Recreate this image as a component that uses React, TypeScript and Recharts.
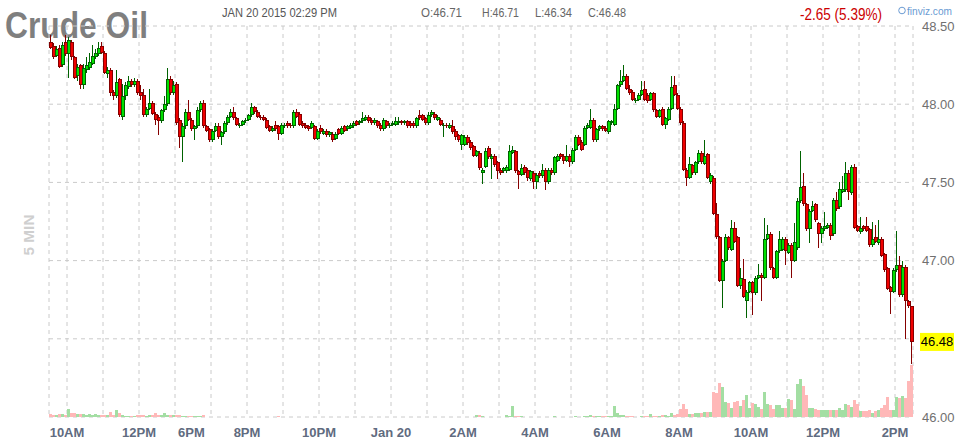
import React from "react";
import {
  ComposedChart,
  Bar,
  XAxis,
  YAxis,
  CartesianGrid,
  ReferenceLine,
} from "recharts";

// 5-minute candles, Jan 19 9:30AM .. Jan 20 2:25PM (gap 1PM -> 6PM)
const opens = [
  48.40, 48.37, 48.31, 48.36, 48.25, 48.40, 48.32, 48.40, 48.30, 48.18,
  48.25, 48.12, 48.22, 48.23, 48.26, 48.30, 48.32, 48.37, 48.33, 48.19,
  48.22, 48.08, 48.05, 48.16, 47.92, 48.05, 48.11, 48.15, 48.12, 48.15,
  48.08, 48.06, 47.93, 47.97, 48.01, 47.94, 47.92, 47.89, 47.96, 48.00,
  48.16, 48.07, 48.13, 47.90, 47.79, 47.86, 47.95, 47.90, 47.84, 47.86,
  47.96, 48.01, 47.86, 47.84, 47.77, 47.83, 47.86, 47.79, 47.82, 47.88,
  47.92, 47.95, 47.91, 47.86, 47.87, 47.89, 47.90, 47.93, 47.98, 47.95,
  47.92, 47.92, 47.90, 47.86, 47.83, 47.87, 47.86, 47.81, 47.86, 47.88,
  47.87, 47.86, 47.95, 47.94, 47.88, 47.87, 47.86, 47.85, 47.86, 47.78,
  47.85, 47.81, 47.83, 47.80, 47.81, 47.78, 47.84, 47.81, 47.86, 47.84,
  47.85, 47.86, 47.89, 47.88, 47.89, 47.90, 47.92, 47.90, 47.88, 47.89,
  47.87, 47.84, 47.89, 47.86, 47.87, 47.87, 47.88, 47.89, 47.88, 47.89,
  47.88, 47.88, 47.86, 47.93, 47.93, 47.91, 47.88, 47.93, 47.94, 47.90,
  47.90, 47.86, 47.87, 47.85, 47.86, 47.83, 47.80, 47.74, 47.74, 47.79,
  47.76, 47.73, 47.67, 47.69, 47.56, 47.60, 47.72, 47.65, 47.67, 47.63,
  47.58, 47.57, 47.57, 47.58, 47.69, 47.70, 47.57, 47.55, 47.60, 47.58,
  47.52, 47.56, 47.50, 47.56, 47.54, 47.58, 47.50, 47.58, 47.56, 47.64,
  47.68, 47.67, 47.64, 47.67, 47.63, 47.71, 47.79, 47.76, 47.74, 47.85,
  47.85, 47.90, 47.77, 47.84, 47.86, 47.85, 47.82, 47.88, 47.87, 47.97,
  48.12, 48.15, 48.18, 48.10, 48.08, 48.02, 48.03, 48.06, 48.10, 48.06,
  48.03, 48.07, 47.96, 47.92, 47.97, 47.87, 47.90, 47.97, 48.12, 48.06,
  47.97, 47.88, 47.58, 47.53, 47.61, 47.56, 47.63, 47.69, 47.62, 47.68,
  47.50, 47.53, 47.30, 47.15, 46.87, 47.00, 47.15, 47.07, 47.21, 47.15,
  46.84, 46.88, 46.74, 46.80, 46.86, 46.79, 46.89, 46.91, 46.89, 47.14,
  47.17, 46.95, 46.89, 47.06, 47.07, 47.14, 47.05, 47.10, 47.00, 47.08,
  47.38, 47.48, 47.36, 47.20, 47.32, 47.36, 47.24, 47.17, 47.20, 47.21,
  47.23, 47.17, 47.39, 47.34, 47.44, 47.45, 47.56, 47.43, 47.60, 47.22,
  47.18, 47.22, 47.22, 47.20, 47.10, 47.15, 47.11, 47.14, 47.04, 46.95,
  46.83, 46.80, 46.94, 46.97, 46.78, 46.96, 46.74, 46.71,
];

const highs = [
  48.44, 48.39, 48.37, 48.38, 48.40, 48.44, 48.43, 48.41, 48.31, 48.26,
  48.26, 48.26, 48.30, 48.33, 48.38, 48.35, 48.40, 48.40, 48.34, 48.24,
  48.23, 48.09, 48.22, 48.17, 48.13, 48.14, 48.18, 48.16, 48.17, 48.16,
  48.12, 48.10, 47.98, 48.10, 48.02, 47.95, 47.93, 47.97, 48.05, 48.23,
  48.18, 48.15, 48.14, 47.91, 47.88, 47.97, 48.03, 47.91, 47.87, 47.98,
  48.02, 48.03, 47.87, 47.85, 47.84, 47.88, 47.88, 47.83, 47.89, 47.93,
  47.97, 47.98, 47.92, 47.88, 47.90, 47.91, 47.94, 48.01, 47.99, 47.96,
  47.93, 47.93, 47.91, 47.87, 47.86, 47.89, 47.87, 47.88, 47.88, 47.89,
  47.88, 47.96, 47.97, 47.95, 47.89, 47.88, 47.87, 47.89, 47.87, 47.84,
  47.87, 47.84, 47.84, 47.83, 47.82, 47.82, 47.85, 47.86, 47.87, 47.87,
  47.88, 47.89, 47.90, 47.90, 47.95, 47.93, 47.93, 47.91, 47.91, 47.90,
  47.88, 47.91, 47.90, 47.88, 47.89, 47.92, 47.92, 47.90, 47.90, 47.90,
  47.89, 47.89, 47.92, 47.96, 47.94, 47.92, 47.95, 47.96, 47.95, 47.93,
  47.91, 47.88, 47.88, 47.88, 47.90, 47.84, 47.81, 47.81, 47.80, 47.80,
  47.77, 47.74, 47.71, 47.70, 47.59, 47.72, 47.73, 47.68, 47.68, 47.64,
  47.59, 47.60, 47.61, 47.74, 47.73, 47.71, 47.58, 47.62, 47.61, 47.59,
  47.58, 47.57, 47.56, 47.57, 47.62, 47.59, 47.59, 47.59, 47.67, 47.68,
  47.69, 47.68, 47.74, 47.68, 47.72, 47.80, 47.80, 47.77, 47.86, 47.88,
  47.97, 47.91, 47.85, 47.87, 47.87, 47.86, 47.90, 47.90, 48.00, 48.13,
  48.22, 48.25, 48.19, 48.12, 48.09, 48.04, 48.07, 48.15, 48.15, 48.07,
  48.08, 48.08, 47.97, 47.97, 47.98, 47.92, 47.98, 48.18, 48.18, 48.07,
  47.98, 47.89, 47.59, 47.66, 47.62, 47.64, 47.71, 47.70, 47.77, 47.69,
  47.56, 47.54, 47.37, 47.16, 47.01, 47.17, 47.16, 47.26, 47.25, 47.16,
  46.95, 47.01, 46.81, 46.87, 46.87, 46.90, 46.98, 46.92, 47.27, 47.23,
  47.18, 46.96, 47.07, 47.19, 47.15, 47.15, 47.11, 47.11, 47.24, 47.40,
  47.70, 47.56, 47.37, 47.33, 47.38, 47.37, 47.25, 47.22, 47.31, 47.24,
  47.24, 47.40, 47.44, 47.50, 47.54, 47.63, 47.58, 47.61, 47.62, 47.23,
  47.28, 47.23, 47.28, 47.21, 47.25, 47.23, 47.26, 47.15, 47.05, 46.96,
  46.84, 46.95, 47.19, 47.03, 47.00, 46.97, 46.75, 46.71,
];

const lows = [
  48.35, 48.29, 48.30, 48.23, 48.24, 48.31, 48.17, 48.28, 48.16, 48.15,
  48.10, 48.10, 48.20, 48.22, 48.25, 48.29, 48.31, 48.32, 48.19, 48.17,
  48.05, 48.03, 48.04, 47.92, 47.90, 48.03, 48.10, 48.11, 48.11, 48.06,
  48.03, 47.92, 47.92, 47.96, 47.93, 47.87, 47.80, 47.88, 47.95, 47.99,
  48.06, 48.06, 47.87, 47.72, 47.63, 47.84, 47.89, 47.83, 47.77, 47.85,
  47.95, 47.85, 47.82, 47.76, 47.76, 47.82, 47.78, 47.74, 47.81, 47.87,
  47.91, 47.90, 47.86, 47.85, 47.86, 47.88, 47.89, 47.92, 47.94, 47.91,
  47.90, 47.89, 47.84, 47.82, 47.82, 47.83, 47.77, 47.80, 47.85, 47.85,
  47.85, 47.85, 47.91, 47.86, 47.85, 47.84, 47.83, 47.84, 47.77, 47.77,
  47.81, 47.80, 47.79, 47.79, 47.76, 47.77, 47.80, 47.80, 47.82, 47.83,
  47.84, 47.85, 47.86, 47.87, 47.88, 47.89, 47.88, 47.87, 47.87, 47.85,
  47.83, 47.83, 47.85, 47.85, 47.86, 47.86, 47.87, 47.87, 47.87, 47.85,
  47.85, 47.85, 47.85, 47.90, 47.89, 47.87, 47.87, 47.92, 47.90, 47.89,
  47.86, 47.79, 47.85, 47.84, 47.81, 47.77, 47.76, 47.71, 47.73, 47.74,
  47.71, 47.66, 47.66, 47.58, 47.49, 47.59, 47.65, 47.52, 47.60, 47.52,
  47.55, 47.56, 47.56, 47.57, 47.68, 47.56, 47.46, 47.54, 47.55, 47.51,
  47.51, 47.46, 47.46, 47.53, 47.53, 47.45, 47.49, 47.55, 47.55, 47.63,
  47.65, 47.62, 47.63, 47.60, 47.62, 47.70, 47.73, 47.70, 47.73, 47.84,
  47.84, 47.76, 47.76, 47.83, 47.83, 47.82, 47.81, 47.87, 47.86, 47.96,
  48.11, 48.14, 48.09, 48.06, 48.02, 48.01, 48.02, 48.05, 48.02, 48.01,
  48.02, 47.95, 47.91, 47.91, 47.86, 47.84, 47.89, 47.96, 48.05, 47.96,
  47.87, 47.57, 47.48, 47.52, 47.55, 47.55, 47.62, 47.62, 47.61, 47.52,
  47.49, 47.29, 47.14, 46.86, 46.70, 46.99, 47.07, 47.06, 47.11, 46.83,
  46.82, 46.76, 46.63, 46.79, 46.65, 46.78, 46.88, 46.74, 46.88, 47.13,
  46.94, 46.88, 46.88, 47.05, 47.06, 46.97, 47.04, 46.89, 46.99, 47.07,
  47.37, 47.35, 47.19, 47.11, 47.31, 47.25, 47.08, 47.11, 47.19, 47.20,
  47.13, 47.16, 47.32, 47.33, 47.43, 47.44, 47.39, 47.42, 47.20, 47.18,
  47.17, 47.19, 47.18, 47.09, 47.09, 47.11, 47.10, 47.02, 46.93, 46.81,
  46.66, 46.79, 46.93, 46.77, 46.77, 46.50, 46.70, 46.34,
];

const closes = [
  48.36, 48.30, 48.35, 48.24, 48.38, 48.32, 48.41, 48.30, 48.17, 48.24,
  48.12, 48.23, 48.25, 48.27, 48.31, 48.33, 48.36, 48.33, 48.20, 48.22,
  48.07, 48.05, 48.14, 47.93, 48.05, 48.12, 48.15, 48.12, 48.15, 48.07,
  48.05, 47.93, 47.97, 48.01, 47.94, 47.90, 47.89, 47.96, 48.00, 48.16,
  48.07, 48.12, 47.88, 47.79, 47.86, 47.95, 47.90, 47.84, 47.86, 47.96,
  48.01, 47.86, 47.83, 47.77, 47.83, 47.86, 47.79, 47.82, 47.88, 47.92,
  47.95, 47.91, 47.87, 47.87, 47.89, 47.90, 47.93, 47.98, 47.95, 47.92,
  47.91, 47.90, 47.85, 47.83, 47.85, 47.84, 47.81, 47.87, 47.87, 47.86,
  47.86, 47.95, 47.92, 47.87, 47.86, 47.85, 47.84, 47.88, 47.78, 47.83,
  47.82, 47.83, 47.80, 47.82, 47.77, 47.81, 47.81, 47.85, 47.83, 47.86,
  47.87, 47.88, 47.87, 47.89, 47.91, 47.92, 47.89, 47.88, 47.90, 47.86,
  47.84, 47.90, 47.86, 47.87, 47.88, 47.89, 47.89, 47.88, 47.89, 47.86,
  47.86, 47.86, 47.91, 47.91, 47.90, 47.88, 47.93, 47.95, 47.91, 47.92,
  47.87, 47.87, 47.86, 47.87, 47.82, 47.79, 47.77, 47.80, 47.79, 47.75,
  47.72, 47.67, 47.70, 47.59, 47.58, 47.70, 47.66, 47.67, 47.61, 47.57,
  47.56, 47.59, 47.60, 47.70, 47.71, 47.57, 47.55, 47.59, 47.56, 47.53,
  47.57, 47.50, 47.55, 47.54, 47.58, 47.50, 47.58, 47.56, 47.66, 47.67,
  47.66, 47.64, 47.67, 47.63, 47.71, 47.79, 47.74, 47.71, 47.85, 47.87,
  47.90, 47.77, 47.84, 47.86, 47.84, 47.83, 47.89, 47.89, 47.97, 48.12,
  48.15, 48.18, 48.10, 48.07, 48.03, 48.03, 48.06, 48.09, 48.03, 48.02,
  48.07, 47.96, 47.92, 47.96, 47.87, 47.91, 47.97, 48.11, 48.06, 47.97,
  47.88, 47.58, 47.53, 47.62, 47.56, 47.63, 47.69, 47.63, 47.67, 47.53,
  47.55, 47.30, 47.15, 46.87, 47.00, 47.15, 47.08, 47.21, 47.12, 46.84,
  46.89, 46.77, 46.80, 46.86, 46.79, 46.89, 46.91, 46.89, 47.14, 47.17,
  46.95, 46.89, 47.06, 47.14, 47.14, 47.06, 47.10, 47.00, 47.12, 47.38,
  47.47, 47.36, 47.20, 47.32, 47.35, 47.26, 47.17, 47.21, 47.22, 47.23,
  47.16, 47.39, 47.33, 47.46, 47.46, 47.56, 47.44, 47.60, 47.21, 47.19,
  47.21, 47.20, 47.19, 47.10, 47.14, 47.12, 47.14, 47.03, 46.94, 46.82,
  46.80, 46.94, 46.97, 46.78, 46.96, 46.74, 46.71, 46.48,
];

const volumes = [
  340, 200, 150, 300, 250, 200, 840, 400, 350, 300,
  250, 250, 200, 250, 200, 250, 200, 150, 200, 150,
  450, 200, 700, 350, 200, 100, 50, 50, 100, 150,
  150, 150, 100, 150, 200, 350, 150, 150, 350, 200,
  150, 200, 200, 150, 100, 50, 80, 50, 60, 80,
  50, 150, 40, 30, 30, 20, 30, 20, 20, 30,
  20, 20, 20, 10, 10, 20, 20, 30, 10, 10,
  10, 10, 20, 10, 10, 10, 60, 20, 10, 10,
  10, 20, 10, 10, 10, 10, 10, 10, 20, 10,
  10, 10, 10, 10, 10, 10, 10, 10, 10, 10,
  10, 10, 10, 10, 10, 10, 10, 10, 10, 10,
  10, 10, 10, 10, 10, 10, 10, 10, 10, 10,
  10, 20, 30, 20, 10, 10, 20, 10, 10, 10,
  10, 20, 10, 10, 20, 20, 30, 40, 30, 30,
  40, 40, 200, 150, 50, 40, 40, 30, 30, 40,
  30, 40, 150, 80, 1070, 80, 60, 50, 40, 40,
  40, 30, 40, 30, 40, 30, 40, 30, 50, 40,
  30, 30, 40, 30, 40, 50, 40, 30, 50, 60,
  150, 60, 50, 60, 80, 50, 70, 100, 1070, 350,
  150, 150, 100, 80, 60, 40, 40, 50, 60, 50,
  300, 100, 120, 100, 150, 150, 100, 400, 200, 250,
  840, 1340, 840, 300, 300, 350, 400, 400, 450, 500,
  500, 2500, 2400, 3400, 2970, 1500, 1400, 940, 1500, 1600,
  1070, 1700, 2200, 940, 1400, 1270, 1000, 840, 2500, 1340,
  1170, 840, 1170, 1170, 940, 940, 1800, 1700, 840, 3340,
  3840, 3100, 2200, 940, 940, 840, 740, 670, 670, 670,
  670, 740, 740, 940, 740, 1340, 1240, 1000, 1670, 1270,
  600, 600, 600, 740, 400, 600, 740, 940, 1240, 2000,
  740, 740, 2000, 1940, 2070, 1940, 3600, 5200,
];

// candle index of each labelled hour
const tickIdx = [6, 30, 42, 66, 90, 114, 138, 162, 186, 210, 234, 258, 282];
const tickLabels = ["10AM", "12PM", "6PM", "8PM", "10PM", "Jan 20", "2AM", "4AM", "6AM", "8AM", "10AM", "12PM", "2PM"];
// the label after the 1PM-6PM gap starts at its line instead of centring on it
const tickAnchors = ["middle", "middle", "start", "middle", "middle", "middle", "middle", "middle", "middle", "middle", "middle", "middle", "middle"];
// hourly grid lines (candle index where each hour starts), plus both edges
const gridIdx = [0, 6, 18, 30, 42, 54, 66, 78, 90, 102, 114, 126, 138, 150, 162, 174, 186, 198, 210, 222, 234, 246, 258, 270, 282, 288];
const priceTicks = [46, 46.5, 47, 47.5, 48, 48.5];

const NARROW = '"Liberation Sans Narrow", "Arial Narrow", "Liberation Sans", Arial, sans-serif';
const RED = "#f00000";
const RED_DARK = "#850000";
const GREEN = "#00e000";
const GREEN_DARK = "#006200";
const VOL_UP = "#a3dea3";
const VOL_DOWN = "#ffb8b8";

const data = opens.map((o, i) => ({
  i,
  o,
  h: highs[i],
  l: lows[i],
  c: closes[i],
  v: volumes[i],
}));
const last = data[data.length - 1];

function Candle(props: any) {
  const { x, y, width, height, payload } = props;
  if (!payload || !isFinite(y) || !isFinite(height)) return null;
  const { o, h, l, c } = payload;
  const top = Math.min(y, y + height);
  const k = Math.abs(height) / (h - l);
  const py = (v: number) => top + (h - v) * k;
  const mid = Math.round(x + width / 2 - 0.5);
  const up = c >= o;
  const dark = up ? GREEN_DARK : RED_DARK;
  const bright = up ? GREEN : RED;
  const wTop = Math.round(py(h));
  const wBot = Math.max(wTop + 1, Math.round(py(l)));
  const bTop = Math.round(py(Math.max(o, c)));
  const bBot = Math.max(bTop + 1, Math.round(py(Math.min(o, c))));
  return (
    <g>
      <rect x={mid} y={wTop} width={1} height={wBot - wTop} fill={dark} />
      <rect x={mid - 1} y={bTop} width={4} height={bBot - bTop} fill={dark} />
      {bBot - bTop > 2 && (
        <rect x={mid} y={bTop + 1} width={2} height={bBot - bTop - 2} fill={bright} />
      )}
    </g>
  );
}

function VolBar(props: any) {
  const { x, y, width, height, payload } = props;
  if (!payload || !(height >= 0.5)) return null;
  const top = Math.round(y);
  const bot = Math.round(y + height);
  return (
    <rect
      x={Math.round(x)}
      y={top}
      width={Math.round(width)}
      height={Math.max(1, bot - top)}
      fill={payload.c >= payload.o ? VOL_UP : VOL_DOWN}
    />
  );
}

function XTick(props: any) {
  const { x, y, payload } = props;
  const n = tickIdx.indexOf(payload.value);
  if (n < 0) return null;
  const anchor = tickAnchors[n];
  return (
    <text
      x={anchor === "start" ? x + 1.5 : x - 1.5}
      y={y + 11.5}
      textAnchor={anchor}
      fontFamily={NARROW}
      fontSize={13}
      fontWeight="bold"
      fill="#5f6b80"
    >
      {tickLabels[n]}
    </text>
  );
}

// price label; the one hidden under the yellow last-price box is left out
function YTick(props: any) {
  const { x, y, payload } = props;
  if (Math.abs(payload.value - last.c) < 0.1) return null;
  return (
    <text x={x} y={y + 4.5} textAnchor="start" fontFamily={NARROW} fontSize={13} fill="#707070">
      {Number(payload.value).toFixed(2)}
    </text>
  );
}

function LastLabel(props: any) {
  const { viewBox } = props;
  if (!viewBox) return null;
  const lx = viewBox.x + viewBox.width + 7;
  const ly = viewBox.y;
  return (
    <g>
      <rect x={lx} y={ly - 9} width={34} height={18} fill="#ffff00" />
      <text
        x={lx + 17}
        y={ly + 4.5}
        textAnchor="middle"
        fontFamily={NARROW}
        fontSize={13}
        fill="#000"
      >
        {last.c.toFixed(2)}
      </text>
    </g>
  );
}

export default function App() {
  return (
    <div
      style={{
        position: "absolute",
        left: 0,
        top: 0,
        width: 964,
        height: 440,
        background: "#fff",
        overflow: "hidden",
        fontFamily: NARROW,
      }}
    >
      <svg width={964} height={440} style={{ position: "absolute", left: 0, top: 0 }}>
        <text x={5} y={38} fontSize={37} fontWeight="bold" fill="#7f7f7f" textLength={143} lengthAdjust="spacingAndGlyphs" fontFamily={NARROW}>
          Crude Oil
        </text>
        <text x={222} y={17} fontSize={12} fill="#555" textLength={115} lengthAdjust="spacingAndGlyphs" fontFamily={NARROW}>
          JAN 20 2015 02:29 PM
        </text>
        <text x={421} y={17} fontSize={12} fill="#666" textLength={41} lengthAdjust="spacingAndGlyphs" fontFamily={NARROW}>
          O:46.71
        </text>
        <text x={482} y={17} fontSize={12} fill="#666" textLength={37} lengthAdjust="spacingAndGlyphs" fontFamily={NARROW}>
          H:46.71
        </text>
        <text x={535} y={17} fontSize={12} fill="#666" textLength={37} lengthAdjust="spacingAndGlyphs" fontFamily={NARROW}>
          L:46.34
        </text>
        <text x={588} y={17} fontSize={12} fill="#666" textLength={38} lengthAdjust="spacingAndGlyphs" fontFamily={NARROW}>
          C:46.48
        </text>
        <text x={800} y={19.5} fontSize={17} fill="#cc0000" textLength={82} lengthAdjust="spacingAndGlyphs" fontFamily={NARROW}>
          -2.65 (5.39%)
        </text>
        <circle cx={902} cy={10.5} r={3.3} fill="none" stroke="#6a9bd3" strokeWidth={1} />
        <text x={907} y={14.5} fontSize={11} fill="#6a9bd3" textLength={45} lengthAdjust="spacingAndGlyphs" fontFamily={NARROW}>
          finviz.com
        </text>
        <text
          x={34}
          y={235}
          transform="rotate(-90 34 235)"
          textAnchor="middle"
          fontSize={14}
          fontWeight="bold"
          fill="#cfcfcf"
          textLength={41}
          lengthAdjust="spacingAndGlyphs"
          fontFamily={NARROW}
        >
          5 MIN
        </text>
      </svg>
      <div style={{ position: "absolute", left: 0, top: 0 }}>
        <ComposedChart
          width={964}
          height={440}
          data={data}
          margin={{ top: 26, right: 0, left: 49, bottom: 0 }}
          barCategoryGap={0}
          barGap={0}
        >
          <CartesianGrid
            xAxisId="p"
            yAxisId="price"
            stroke="#cacaca"
            strokeDasharray="4 4"
            verticalCoordinatesGenerator={({ offset }: any) =>
              gridIdx.map((g) => offset.left + (g * offset.width) / data.length)
            }
          />
          <XAxis
            xAxisId="p"
            dataKey="i"
            type="category"
            ticks={tickIdx}
            interval={0}
            height={23}
            axisLine={false}
            tickLine={false}
            tick={<XTick />}
          />
          <XAxis xAxisId="v" dataKey="i" type="category" hide />
          <YAxis
            yAxisId="price"
            orientation="right"
            domain={[46, 48.5]}
            ticks={priceTicks}
            width={51}
            axisLine={false}
            tickLine={false}
            tickMargin={3}
            tick={<YTick />}
          />
          <YAxis yAxisId="vol" hide domain={[0, (m: number) => m * 7.5]} />
          <Bar
            xAxisId="v"
            yAxisId="vol"
            dataKey="v"
            shape={<VolBar />}
            isAnimationActive={false}
          />
          <Bar
            xAxisId="p"
            yAxisId="price"
            dataKey={(d: any) => [d.l, d.h]}
            shape={<Candle />}
            isAnimationActive={false}
          />
          <ReferenceLine
            xAxisId="p"
            yAxisId="price"
            y={last.c}
            stroke="none"
            ifOverflow="visible"
            label={<LastLabel />}
          />
        </ComposedChart>
      </div>
    </div>
  );
}
